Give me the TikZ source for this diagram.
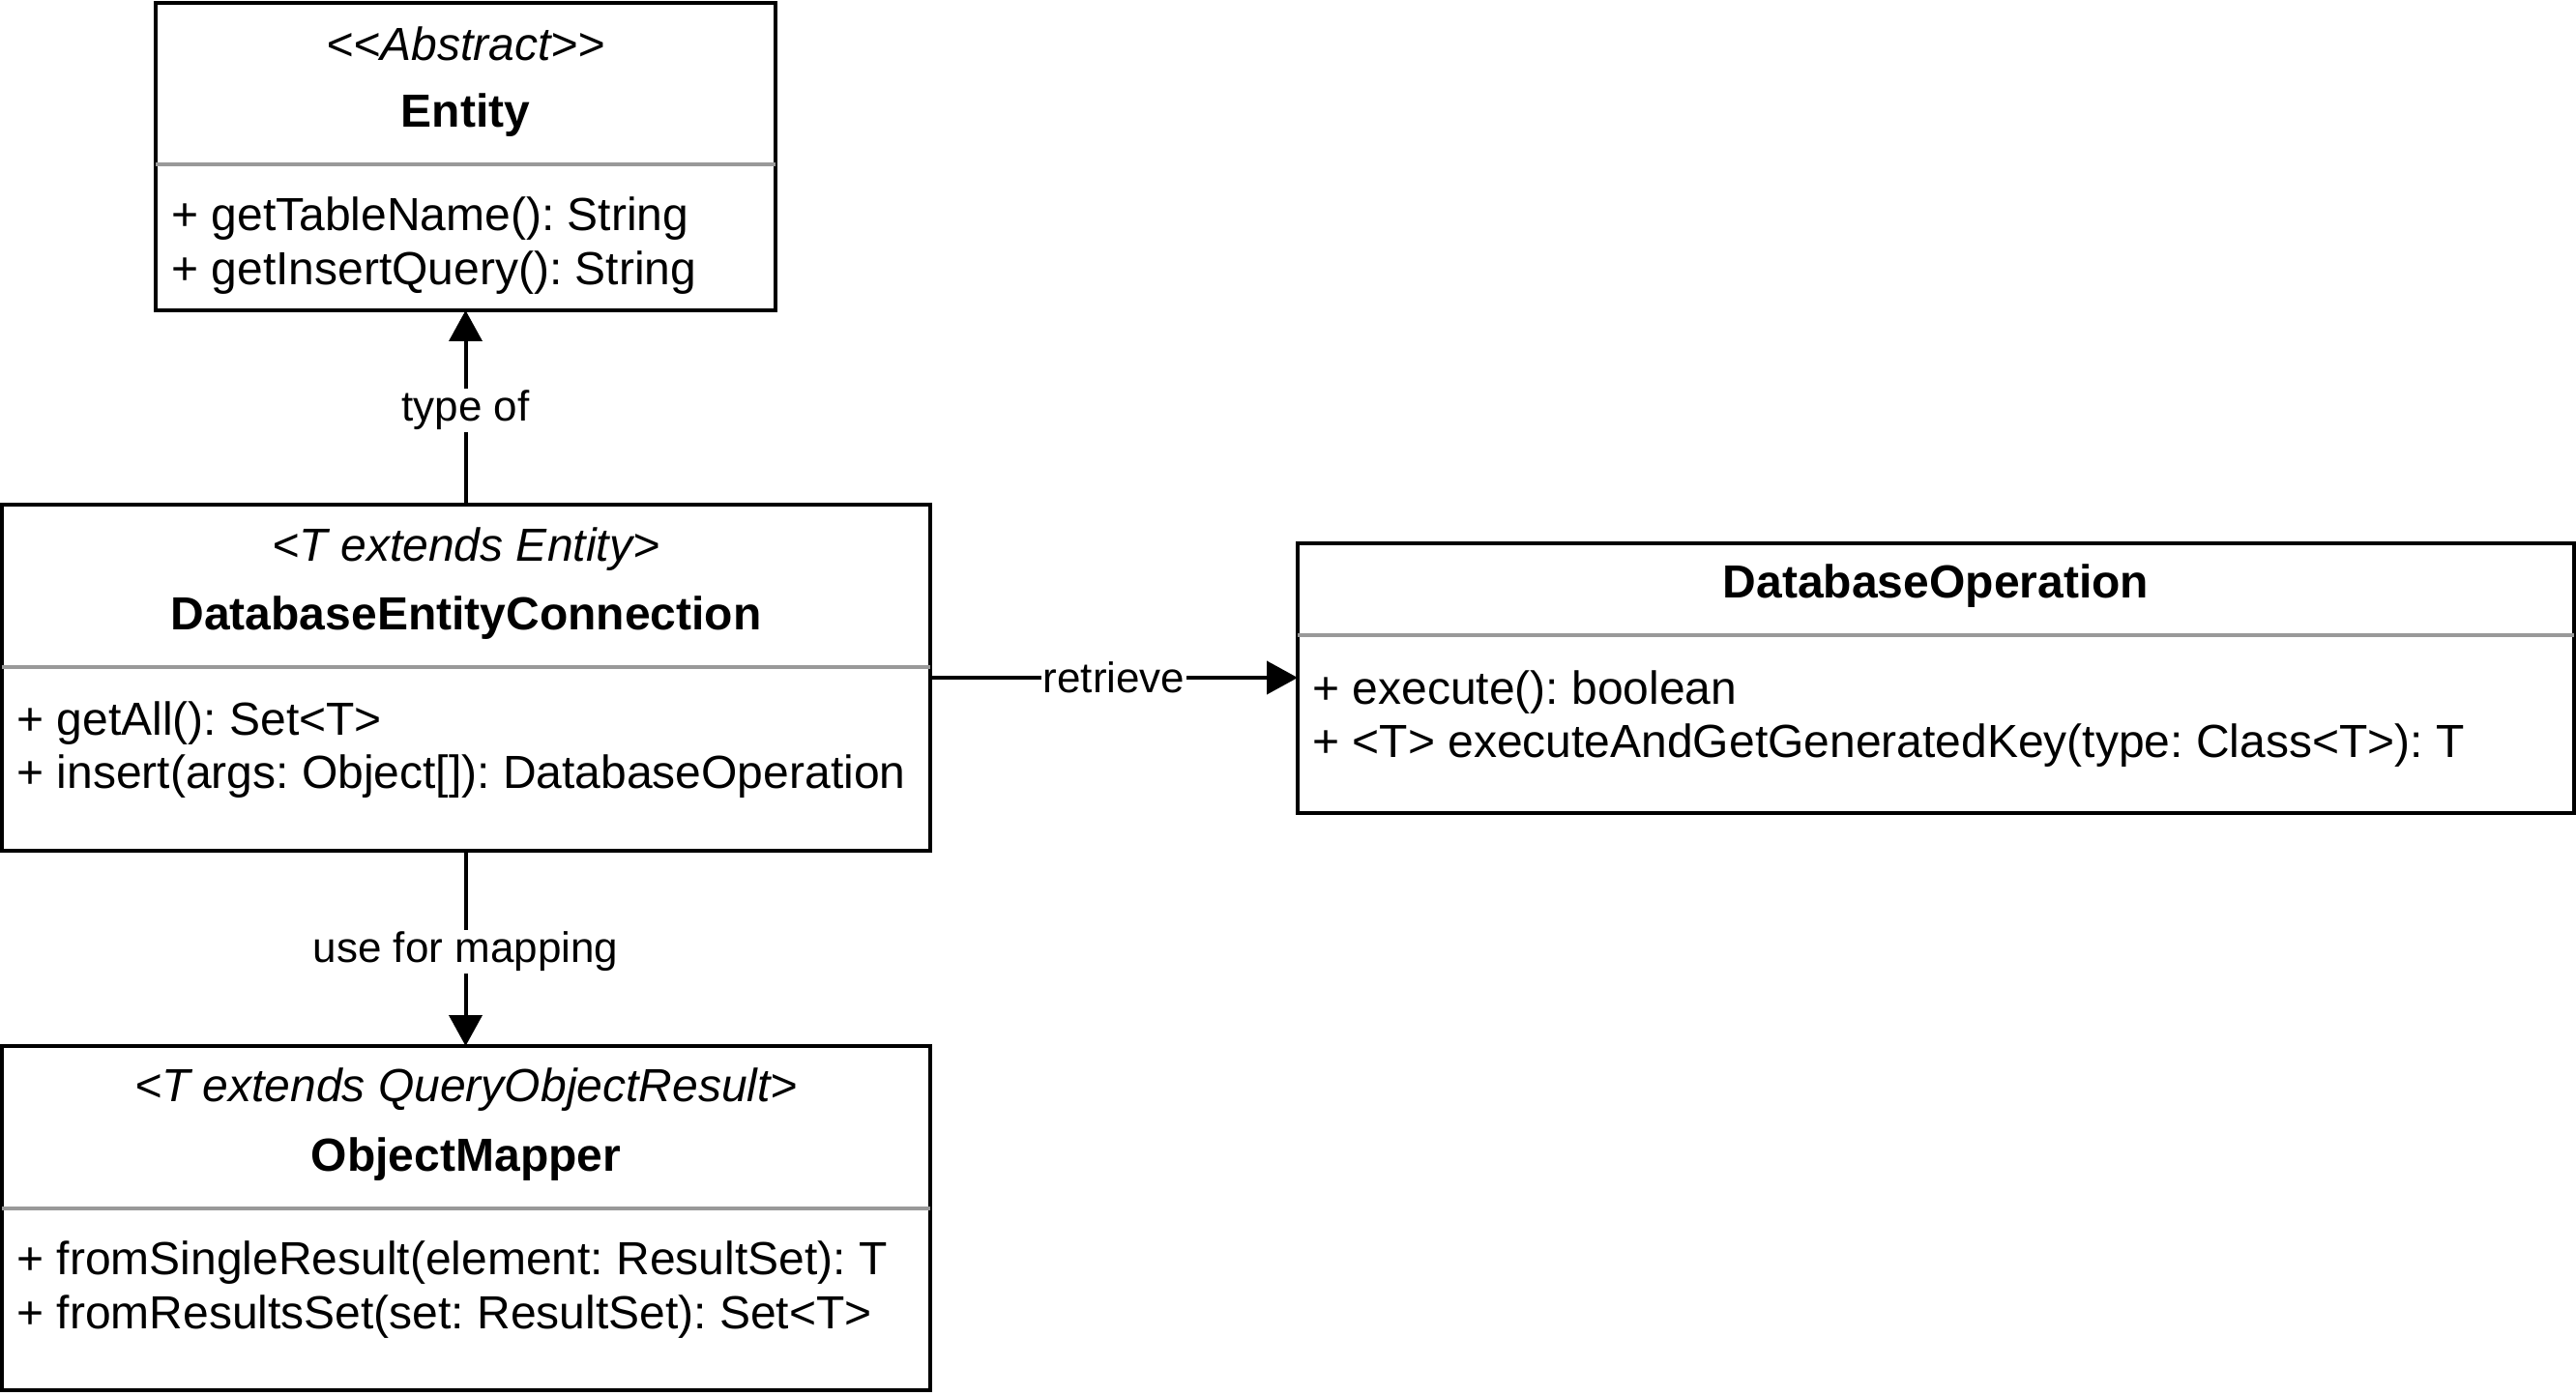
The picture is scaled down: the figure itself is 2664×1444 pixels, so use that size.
\documentclass[tikz,border=0pt]{standalone}
\usepackage{fontspec}
\setmainfont{Liberation Sans}
\usetikzlibrary{arrows.meta}
\frenchspacing
\begin{document}
\begin{tikzpicture}[x=0.5pt,y=-0.5pt,
  classbox/.style={draw=black, line width=2pt, anchor=north west, inner sep=0pt, outer sep=0pt},
  divider/.style={draw=black!40, line width=1.6pt},
  txt/.style={font=\fontsize{24}{28}\selectfont, inner sep=0pt},
  stereo/.style={txt, font=\fontsize{24}{28}\selectfont\itshape},
  title/.style={txt, font=\fontsize{24}{28}\selectfont\bfseries},
  member/.style={txt, anchor=west},
  conn/.style={draw=black, line width=2pt, -{Triangle[length=16pt,width=17pt]}},
  lbl/.style={fill=white, font=\fontsize{22}{26}\selectfont, inner sep=1pt}
]
\useasboundingbox (0,0) rectangle (2664,1444);

% Entity
\node (entity) [classbox, minimum width=320.5pt, minimum height=159pt] at (161,3) {};
\draw[divider] (161,170) -- (802,170);
\node (entityS) [stereo] at (481.5,45) {<{}<Abstract>{}>};
\node (entityT) [title] at (481.5,119) {Entity};
\node (entityM1) [member] at (177,226) {+ getTableName(): String};
\node (entityM2) [member] at (177,282) {+ getInsertQuery(): String};

% DatabaseEntityConnection
\node (dec) [classbox, minimum width=480pt, minimum height=179pt] at (2,522) {};
\draw[divider] (2,690) -- (962,690);
\node (decS) [stereo] at (482,568) {<T extends Entity>};
\node (decT) [title] at (482,639) {DatabaseEntityConnection};
\node (decM1) [member] at (17,748) {+ getAll(): Set<T>};
\node (decM2) [member] at (17,803) {+ insert(args: Object[]): DatabaseOperation};

% DatabaseOperation
\node (dop) [classbox, minimum width=660pt, minimum height=139.5pt] at (1342,562) {};
\draw[divider] (1342,657) -- (2662,657);
\node (dopT) [title] at (2002,606) {DatabaseOperation};
\node (dopM1) [member] at (1357,716) {+ execute(): boolean};
\node (dopM2) [member] at (1357,771) {+ <T> executeAndGetGeneratedKey(type: Class<T>): T};

% ObjectMapper
\node (om) [classbox, minimum width=480pt, minimum height=178pt] at (2,1082) {};
\draw[divider] (2,1250) -- (962,1250);
\node (omS) [stereo] at (482,1127) {<T extends QueryObjectResult>};
\node (omT) [title] at (482,1199) {ObjectMapper};
\node (omM1) [member] at (17,1306) {+ fromSingleResult(element: ResultSet): T};
\node (omM2) [member] at (17,1362) {+ fromResultsSet(set: ResultSet): Set<T>};

% connectors
\draw[conn] (dec.north -| entity.south) -- (entity.south) node[lbl, midway, yshift=-1.5pt] {type of};
\draw[conn] (dec.east) -- (dec.east -| dop.west) node[lbl, midway] {retrieve};
\draw[conn] (dec.south -| entity.south) -- (om.north -| entity.south) node[lbl, midway, yshift=-1.5pt] {use for mapping};
\end{tikzpicture}
\end{document}
